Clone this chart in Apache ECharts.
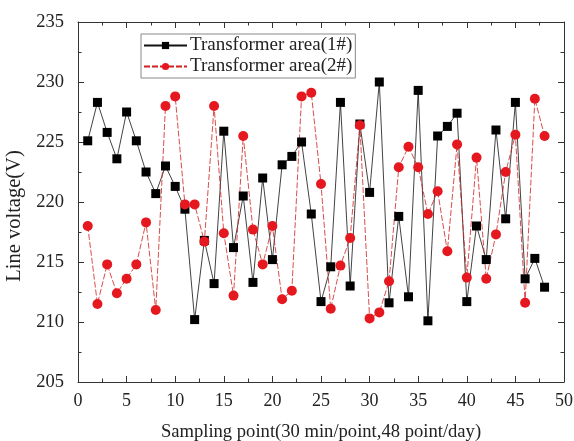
<!DOCTYPE html>
<html>
<head>
<meta charset="utf-8">
<script src="https://cdn.jsdelivr.net/npm/echarts@6/dist/echarts.min.js"></script>
<style>html,body{margin:0;padding:0;background:#fff}#c{width:574px;height:441px}</style>
</head>
<body>
<div id="c"></div>
<script>
var samplePoints = [1,2,3,4,5,6,7,8,9,10,11,12,13,14,15,16,17,18,19,20,21,22,23,24,25,26,27,28,29,30,31,32,33,34,35,36,37,38,39,40,41,42,43,44,45,46,47,48];
var area1 = [225.1,228.3,225.8,223.6,227.5,225.1,222.5,220.7,223.0,221.3,219.4,210.2,216.8,213.2,225.9,216.2,220.5,213.3,222.0,215.2,223.1,223.8,225.0,219.0,211.7,214.6,228.3,213.0,226.5,220.8,230.0,211.6,218.8,212.1,229.3,210.1,225.5,226.3,227.4,211.7,218.0,215.2,226.0,218.6,228.3,213.6,215.3,212.9];
var area2 = [218.0,211.5,214.8,212.4,213.6,214.8,218.3,211.0,228.0,228.8,219.8,219.8,216.7,228.0,217.4,212.2,225.5,217.7,214.8,218.0,211.9,212.6,228.8,229.1,221.5,211.1,214.7,217.0,226.4,210.3,210.8,213.4,222.9,224.6,222.9,219.0,220.9,215.9,224.8,213.7,223.7,213.6,217.3,222.5,225.6,211.6,228.6,225.5];
var seriesNames = ['Transformer area(1#)','Transformer area(2#)'];

function pairs(vals){ return samplePoints.map(function(x,i){ return [x, vals[i]]; }); }

var font = 'Liberation Serif';
var axisCommon = {
  axisLine: {show: true, onZero: false, lineStyle: {color: '#333', width: 1}},
  axisTick: {show: true, inside: true, length: 6, lineStyle: {color: '#333'}},
  minorTick: {show: true, splitNumber: 2, length: 3.5, lineStyle: {color: '#333'}},
  splitLine: {show: false}
};
var chart = echarts.init(document.getElementById('c'));
chart.setOption({
  backgroundColor: '#fff',
  animation: false,
  grid: {left: 78, right: 10, top: 22, bottom: 59, containLabel: false, outerBoundsMode: 'none'},
  legend: {
    left: 141, top: 34, orient: 'vertical',
    itemWidth: 43, itemHeight: 9, itemGap: 2,
    padding: [2, 3, 2, 2],
    borderColor: '#888', borderWidth: 1,
    textStyle: {fontFamily: font, fontSize: 19, color: '#222', padding: [0, 0, 0, -2]},
    data: seriesNames
  },
  xAxis: [
    Object.assign({}, axisCommon, {
      type: 'value', min: 0, max: 50, interval: 5, position: 'bottom',
      axisLabel: {fontFamily: font, fontSize: 18, color: '#222', margin: 10},
      name: 'Sampling point(30 min/point,48 point/day)', nameLocation: 'middle', nameGap: 41,
      nameTextStyle: {fontFamily: font, fontSize: 18.6, color: '#222'}
    }),
    Object.assign({}, axisCommon, {
      type: 'value', min: 0, max: 50, interval: 5, position: 'top',
      axisLabel: {show: false}
    })
  ],
  yAxis: [
    Object.assign({}, axisCommon, {
      type: 'value', min: 205, max: 235, interval: 5, position: 'left',
      axisLabel: {fontFamily: font, fontSize: 18.5, color: '#222', margin: 14},
      name: 'Line voltage(V)', nameLocation: 'middle', nameGap: 39,
      nameTextStyle: {fontFamily: font, fontSize: 20.5, color: '#222', padding: [0, 28, 0, 0]}
    }),
    Object.assign({}, axisCommon, {
      type: 'value', min: 205, max: 235, interval: 5, position: 'right',
      axisLabel: {show: false}
    })
  ],
  series: [
    {
      name: seriesNames[0], type: 'line', data: pairs(area1),
      symbol: 'rect', symbolSize: 9,
      itemStyle: {color: '#000'},
      lineStyle: {color: '#111', width: 0.8}
    },
    {
      name: seriesNames[1], type: 'line', data: pairs(area2),
      symbol: 'circle', symbolSize: 10,
      itemStyle: {color: '#e5171f'},
      lineStyle: {color: '#d02020', width: 0.8, type: [6, 2]}
    }
  ]
});
</script>
</body>
</html>
